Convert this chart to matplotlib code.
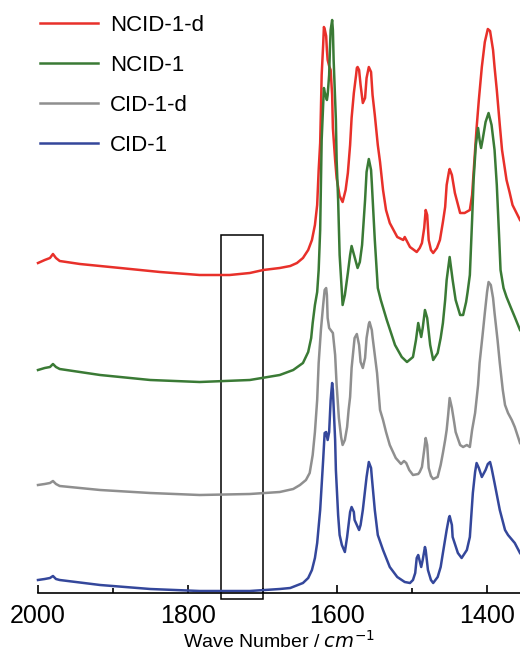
import matplotlib
matplotlib.use("Agg")
import matplotlib.pyplot as plt
from matplotlib.patches import Rectangle

plt.rcParams['font.family'] = ['Liberation Sans', 'DejaVu Sans']

# spectra: (wavenumber cm-1, intensity a.u., already stacked)
red = [(2000, 330), (1991, 333), (1984, 335), (1980, 339), (1976, 335), (1971, 332), (1944, 329),
       (1890, 325), (1837, 321), (1784, 318), (1744, 318), (1717, 320), (1699, 323), (1677, 325),
       (1663, 327), (1654, 330), (1646, 335), (1639, 343), (1634, 353), (1630, 368), (1627, 388),
       (1625, 423), (1623, 450), (1622, 483), (1621, 518), (1619, 548), (1618, 566), (1617, 564),
       (1615, 557), (1614, 543), (1613, 533), (1611, 527), (1609, 523), (1607, 498), (1606, 465),
       (1603, 433), (1601, 415), (1597, 397), (1593, 391), (1589, 403), (1586, 420), (1583, 448),
       (1581, 475), (1578, 500), (1575, 518), (1574, 525), (1573, 526), (1571, 523), (1569, 508),
       (1566, 490), (1563, 495), (1561, 515), (1558, 526), (1555, 521), (1553, 498), (1550, 478),
       (1546, 448), (1543, 431), (1539, 403), (1535, 383), (1530, 370), (1520, 356), (1512, 353),
       (1510, 356), (1503, 346), (1494, 341), (1490, 345), (1487, 350), (1484, 365), (1482, 383),
       (1480, 378), (1478, 353), (1475, 343), (1472, 340), (1467, 345), (1463, 353), (1459, 371),
       (1456, 386), (1454, 408), (1451, 421), (1450, 424), (1447, 418), (1443, 400), (1436, 380),
       (1430, 380), (1423, 383), (1420, 398), (1416, 443), (1414, 465), (1411, 493), (1407, 526),
       (1403, 551), (1399, 564), (1396, 562), (1392, 543), (1390, 526), (1387, 503), (1383, 468),
       (1380, 443), (1376, 423), (1374, 413), (1370, 401), (1366, 388), (1356, 373)]

green = [(2000, 223), (1991, 225), (1984, 226), (1980, 229), (1976, 226), (1971, 224), (1917, 218),
         (1850, 213), (1784, 211), (1717, 213), (1677, 218), (1659, 223), (1646, 230), (1639, 241),
         (1635, 255), (1633, 270), (1630, 288), (1627, 301), (1625, 323), (1623, 363), (1622, 408),
         (1621, 453), (1619, 488), (1618, 505), (1617, 501), (1614, 493), (1613, 498), (1611, 518),
         (1610, 543), (1609, 563), (1607, 573), (1606, 563), (1605, 533), (1602, 473), (1601, 433),
         (1599, 393), (1597, 338), (1594, 301), (1593, 288), (1590, 298), (1586, 320), (1583, 338),
         (1581, 347), (1577, 336), (1573, 325), (1570, 331), (1567, 348), (1563, 393), (1561, 421),
         (1558, 434), (1555, 423), (1554, 410), (1550, 353), (1546, 305), (1542, 293), (1534, 273),
         (1523, 248), (1514, 236), (1507, 231), (1499, 236), (1495, 253), (1492, 270), (1488, 256),
         (1486, 265), (1483, 283), (1480, 275), (1476, 248), (1472, 233), (1466, 240), (1462, 255),
         (1459, 270), (1456, 293), (1454, 313), (1450, 336), (1446, 313), (1442, 293), (1436, 278),
         (1432, 278), (1428, 291), (1426, 301), (1423, 318), (1420, 373), (1418, 413), (1415, 448),
         (1412, 465), (1410, 453), (1408, 445), (1406, 453), (1402, 471), (1398, 480), (1394, 468),
         (1390, 443), (1387, 408), (1384, 358), (1382, 323), (1378, 305), (1374, 296), (1368, 285),
         (1363, 276), (1356, 263)]

grey = [(2000, 108), (1991, 109), (1984, 110), (1980, 112), (1976, 109), (1971, 107), (1917, 103),
        (1850, 100), (1784, 98), (1717, 99), (1677, 101), (1659, 104), (1650, 108), (1642, 113),
        (1637, 120), (1633, 138), (1630, 161), (1627, 193), (1625, 230), (1622, 263), (1619, 288),
        (1617, 303), (1615, 305), (1614, 298), (1613, 275), (1611, 265), (1609, 263), (1606, 260),
        (1603, 238), (1601, 208), (1598, 175), (1595, 156), (1593, 148), (1590, 153), (1587, 166),
        (1585, 183), (1583, 196), (1581, 225), (1579, 240), (1577, 255), (1574, 259), (1571, 248),
        (1569, 231), (1566, 225), (1563, 235), (1561, 255), (1558, 269), (1557, 271), (1554, 263),
        (1553, 256), (1550, 238), (1547, 220), (1543, 183), (1539, 173), (1535, 161), (1530, 148),
        (1522, 135), (1515, 129), (1511, 132), (1508, 130), (1504, 123), (1499, 118), (1492, 119),
        (1490, 121), (1487, 126), (1484, 143), (1482, 155), (1480, 148), (1478, 125), (1475, 117),
        (1472, 114), (1466, 116), (1462, 128), (1459, 140), (1456, 153), (1454, 163), (1452, 178),
        (1450, 195), (1447, 185), (1444, 171), (1442, 161), (1436, 148), (1432, 146), (1427, 148),
        (1423, 146), (1420, 163), (1416, 180), (1412, 208), (1410, 230), (1406, 258), (1403, 280),
        (1400, 301), (1398, 311), (1395, 308), (1392, 295), (1390, 280), (1386, 253), (1383, 230),
        (1379, 203), (1376, 188), (1372, 180), (1367, 173), (1363, 166), (1356, 150)]

blue = [(2000, 13), (1991, 14), (1984, 15), (1980, 17), (1976, 14), (1971, 13), (1917, 8),
        (1850, 4), (1784, 2), (1717, 2), (1677, 4), (1663, 5), (1646, 10), (1639, 15), (1634, 23),
        (1630, 35), (1627, 50), (1623, 83), (1619, 133), (1617, 160), (1615, 161), (1613, 153),
        (1611, 161), (1609, 193), (1607, 210), (1606, 203), (1603, 153), (1602, 123), (1599, 78),
        (1597, 58), (1594, 48), (1590, 41), (1587, 56), (1583, 81), (1581, 86), (1578, 81),
        (1577, 73), (1571, 63), (1569, 68), (1566, 83), (1561, 116), (1558, 131), (1555, 125),
        (1554, 116), (1550, 83), (1546, 58), (1539, 43), (1530, 26), (1520, 16), (1510, 11),
        (1503, 10), (1499, 13), (1496, 20), (1494, 35), (1492, 38), (1491, 35), (1488, 26),
        (1486, 33), (1483, 46), (1482, 43), (1479, 23), (1475, 13), (1472, 10), (1466, 16),
        (1462, 26), (1459, 40), (1454, 63), (1451, 75), (1450, 77), (1447, 68), (1446, 56),
        (1439, 40), (1434, 35), (1427, 43), (1423, 56), (1419, 100), (1416, 121), (1414, 130),
        (1411, 125), (1407, 116), (1402, 123), (1399, 129), (1396, 131), (1394, 125), (1390, 110),
        (1383, 83), (1376, 63), (1372, 58), (1363, 50), (1356, 40)]

labels = ['NCID-1-d', 'NCID-1', 'CID-1-d', 'CID-1']
colors = ['#e8302a', '#3a7a35', '#8f8f8f', '#34479b']

# highlighted window (cm-1) and its vertical extent (a.u.)
box_wn = (1755, 1700)
box_y = (-6, 358)

fig = plt.figure(figsize=(5.2, 6.5), dpi=100)
ax = fig.add_axes([38 / 520, 57 / 650, 1 - 38 / 520, 1 - 57 / 650])

for spec, lab, c in zip([red, green, grey, blue], labels, colors):
    wn, y = zip(*spec)
    ax.plot(wn, y, color=c, lw=1.8, label=lab, solid_joinstyle='round', clip_on=False)

ax.add_patch(Rectangle((box_wn[1], box_y[0]), box_wn[0] - box_wn[1], box_y[1] - box_y[0],
                       fill=False, edgecolor='black', lw=1.1, clip_on=False))

ax.set_xlim(2000, 1356)
ax.set_ylim(0, 593)
ax.set_xticks([2000, 1800, 1600, 1400])
ax.set_xticks([1900, 1700, 1500], minor=True)
ax.tick_params(axis='x', which='major', direction='in', length=6, width=1.2, labelsize=18, pad=8)
ax.tick_params(axis='x', which='minor', direction='in', length=3.5, width=1.2)
ax.set_yticks([])
for s in ['top', 'right', 'left']:
    ax.spines[s].set_visible(False)
ax.spines['bottom'].set_linewidth(1.2)
ax.set_xlabel('Wave Number / $\\mathit{cm}^{-1}$', fontsize=14, labelpad=1)

ax.legend(loc='upper left', bbox_to_anchor=(0.052, 0.998), bbox_transform=fig.transFigure,
          frameon=False, fontsize=16, handlelength=2.6, handletextpad=0.55,
          labelspacing=0.86, borderpad=0.3, borderaxespad=0.3)

fig.savefig('out.png', dpi=100)
